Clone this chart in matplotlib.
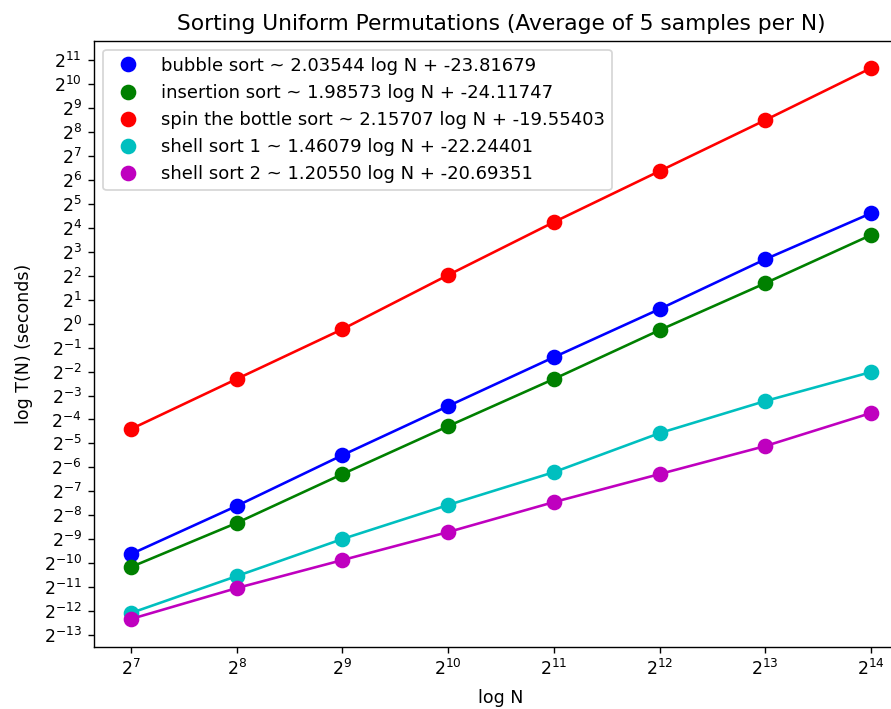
import matplotlib
matplotlib.use('Agg')
import matplotlib.pyplot as plt
from matplotlib.ticker import LogLocator

# log2 of N, and log2 of the average time (seconds) for each sort
log_n = [7, 8, 9, 10, 11, 12, 13, 14]

bubble = [-9.62, -7.61, -5.49, -3.44, -1.40, 0.61, 2.69, 4.61]
insertion = [-10.16, -8.32, -6.28, -4.28, -2.31, -0.27, 1.69, 3.70]
spin = [-4.40, -2.31, -0.23, 2.03, 4.24, 6.37, 8.50, 10.67]
shell1 = [-12.08, -10.54, -8.99, -7.57, -6.20, -4.57, -3.23, -2.02]
shell2 = [-12.33, -11.04, -9.87, -8.70, -7.45, -6.28, -5.11, -3.73]

names = ['bubble sort', 'insertion sort', 'spin the bottle sort', 'shell sort 1', 'shell sort 2']
slopes = [2.03544, 1.98573, 2.15707, 1.46079, 1.20550]
intercepts = [-23.81679, -24.11747, -19.55403, -22.24401, -20.69351]
colors = ['b', 'g', 'r', 'c', 'm']

fig = plt.figure(figsize=(7.128, 5.672), dpi=125)
ax = fig.add_axes([0.1055, 0.0881, 0.9136, 0.8547])

N = [2 ** v for v in log_n]
for i, series in enumerate([bubble, insertion, spin, shell1, shell2]):
    T = [2 ** v for v in series]
    label = '%s ~ %.5f log N + %.5f' % (names[i], slopes[i], intercepts[i])
    ax.plot(N, T, '-', color=colors[i], linewidth=1.5)
    ax.plot(N, T, 'o', color=colors[i], markersize=8, label=label)

ax.set_xscale('log', base=2)
ax.set_yscale('log', base=2)
ax.yaxis.set_major_locator(LogLocator(base=2, numticks=40))
ax.xaxis.set_major_locator(LogLocator(base=2, numticks=20))

ax.set_title('Sorting Uniform Permutations (Average of 5 samples per N)', fontsize=12.5)
ax.set_xlabel('log N', labelpad=6)
ax.set_ylabel('log T(N) (seconds)', labelpad=6)
ax.legend(loc='upper left', fontsize=10.4)

fig.savefig('out.png', dpi=125)
